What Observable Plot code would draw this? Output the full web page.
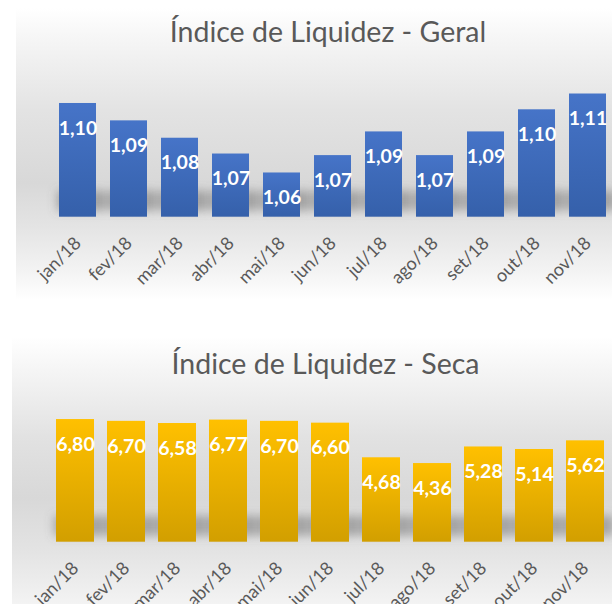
<!DOCTYPE html>
<html><head><meta charset="utf-8">
<script src="https://cdn.jsdelivr.net/npm/d3@7"></script>
<script src="https://cdn.jsdelivr.net/npm/@observablehq/plot@0.6"></script>
<style>
body{margin:0;background:#fff;}
#wrap{position:relative;width:612px;height:604px;overflow:hidden;font-family:Lato,sans-serif;}
.bg{position:absolute;}
.title{position:absolute;left:0;text-align:center;color:#595959;font-size:28.5px;line-height:28px;white-space:nowrap;font-family:Lato,sans-serif;}
.chart{position:absolute;left:0;}
</style></head><body>
<div id="wrap">
  <div class="bg" style="left:16px;top:8px;width:596px;height:292px;background:linear-gradient(to bottom,#ffffff 0%,#f6f6f6 10%,#e3e3e3 35%,#d8d8d8 60%,#e4e4e4 75%,#f3f3f3 90%,#ffffff 100%);"></div>
  <div class="bg" style="left:12px;top:300px;width:600px;height:304px;background:linear-gradient(to bottom,#ffffff 0%,#ffffff 12%,#f6f6f6 22%,#e2e2e2 45%,#d8d8d8 65%,#e3e3e3 82%,#f3f3f3 100%);"></div>
  <div class="title" id="t1" style="top:17px;width:656px;"></div>
  <div class="title" id="t2" style="top:349px;width:651px;"></div>
  <div class="chart" id="c1" style="top:0px;"></div>
  <div class="chart" id="c2" style="top:300px;"></div>
</div>
<script>
const months = ["jan/18","fev/18","mar/18","abr/18","mai/18","jun/18","jul/18","ago/18","set/18","out/18","nov/18"];
const geral = [1.104, 1.093, 1.082, 1.072, 1.060, 1.071, 1.086, 1.071, 1.086, 1.100, 1.110];
const seca = [6.80, 6.70, 6.58, 6.77, 6.70, 6.60, 4.68, 4.36, 5.28, 5.14, 5.62];
const titles = ["Índice de Liquidez - Geral", "Índice de Liquidez - Seca"];

document.getElementById("t1").textContent = titles[0];
document.getElementById("t2").textContent = titles[1];

const fmt = v => v.toFixed(2).replace(".", ",");

function panel({values, yDomain, height, marginBottom, xRange, padIn, grad, gradId, blurId}) {
  const data = months.map((m, i) => ({m, v: values[i]}));
  const svg = Plot.plot({
    width: 612, height, marginTop: 0, marginBottom, marginLeft: 0, marginRight: 0,
    style: {background: "transparent", fontFamily: "Lato, sans-serif", fontSize: "18px", overflow: "hidden"},
    x: {domain: months, range: xRange, paddingInner: padIn, paddingOuter: padIn / 2, label: null},
    y: {domain: yDomain, axis: null},
    marks: [
      Plot.barY(data, {x: "m", y1: yDomain[0], y2: yDomain[0], insetTop: -26, insetBottom: 6, insetLeft: -2, insetRight: -10, fill: "#6a6a6a", fillOpacity: 0.5}),
      Plot.barY(data, {x: "m", y1: yDomain[0], y2: "v", fill: `url(#${gradId})`}),
      Plot.text(data, {x: "m", y: "v", text: d => fmt(d.v), dy: 25, fill: "white", fontWeight: "bold", fontSize: 19.5}),
      Plot.axisX({tickSize: 0, tickPadding: 23, tickRotate: -45, fill: "#595959", fontSize: 18, label: null})
    ]
  });
  d3.select(svg).insert("defs", ":first-child").html(
    `<linearGradient id="${gradId}" x1="0" y1="0" x2="0" y2="1"><stop offset="0" stop-color="${grad[0]}"/><stop offset="1" stop-color="${grad[1]}"/></linearGradient>` +
    `<filter id="${blurId}" x="-50%" y="-100%" width="200%" height="300%"><feGaussianBlur stdDeviation="5"/></filter>`
  );
  const bars = svg.querySelectorAll('g[aria-label="bar"]');
  if (bars.length) bars[0].setAttribute("filter", `url(#${blurId})`);
  return svg;
}

document.getElementById("c1").appendChild(panel({
  values: geral, yDomain: [1.032, 1.1692], height: 300, marginBottom: 83.3,
  xRange: [49.8, 615.2], padIn: 0.28, grad: ["#4674C8", "#3560AA"], gradId: "gBlue", blurId: "blur1"
}));
document.getElementById("c2").appendChild(panel({
  values: seca, yDomain: [0, 13.4], height: 304, marginBottom: 62.3,
  xRange: [47.3, 612.2], padIn: 0.26, grad: ["#FFC000", "#D29F00"], gradId: "gGold", blurId: "blur2"
}));
</script>
</body></html>
